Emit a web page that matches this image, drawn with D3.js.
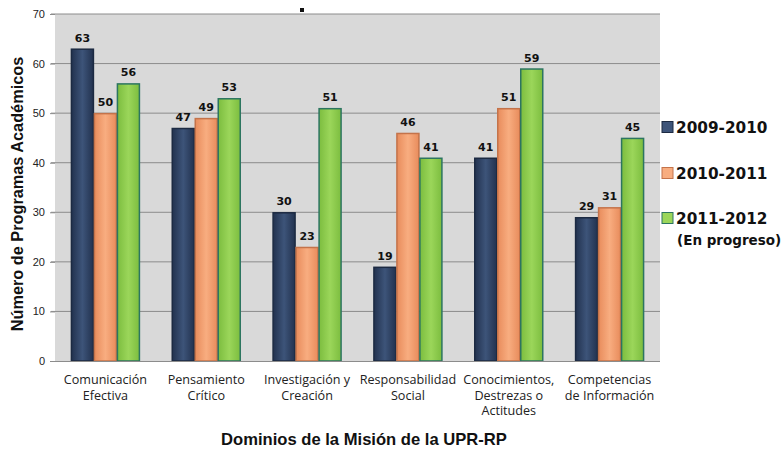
<!DOCTYPE html>
<html><head><meta charset="utf-8">
<script src="https://cdn.jsdelivr.net/npm/d3@7"></script>
<style>body{margin:0;background:#fff}svg{display:block}</style>
</head><body><svg id="c" width="782" height="454"></svg>
<script>
const categories = [["Comunicación","Efectiva"],["Pensamiento","Crítico"],["Investigación y","Creación"],["Responsabilidad","Social"],["Conocimientos,","Destrezas o","Actitudes"],["Competencias","de Información"]];
const seriesNames = ["2009-2010","2010-2011","2011-2012"];
const s2009 = [63,47,30,19,41,29];
const s2010 = [50,49,23,46,51,31];
const s2011 = [56,53,51,41,59,45];
const yTicks = [0,10,20,30,40,50,60,70];
const seriesVals = [s2009,s2010,s2011];
const styles = [
  {edge:"#22324f",mid:"#3d5479",stroke:"#1c2a42"},
  {edge:"#e88c5c",mid:"#f8ad80",stroke:"#c4734a"},
  {edge:"#7cbd3f",mid:"#9bd65a",stroke:"#2c7560"}
];
const svg = d3.select("#c");
const m = {l:55,r:660,t:14,b:361};
const x = d3.scaleBand().domain(d3.range(categories.length)).range([m.l,m.r]).paddingInner(0).paddingOuter(0);
const y = d3.scaleLinear().domain([0,70]).range([m.b,m.t]);
const bw = 23;
const defs = svg.append("defs");
styles.forEach((s,i)=>{
  const g = defs.append("linearGradient").attr("id","g"+i).attr("x1","0").attr("x2","1").attr("y1","0").attr("y2","0");
  g.append("stop").attr("offset","0").attr("stop-color",s.edge);
  g.append("stop").attr("offset","0.5").attr("stop-color",s.mid);
  g.append("stop").attr("offset","1").attr("stop-color",s.edge);
});
svg.append("rect").attr("x",m.l).attr("y",m.t).attr("width",m.r-m.l).attr("height",m.b-m.t).attr("fill","#d9d9d9");
svg.append("g").selectAll("line").data(yTicks.filter(d=>d>0)).join("line")
  .attr("x1",m.l-4).attr("x2",m.r).attr("y1",d=>y(d)).attr("y2",d=>y(d))
  .attr("stroke","#8c8c8c").attr("stroke-width",1);
// y axis
const ya = svg.append("g").attr("transform",`translate(${m.l},0)`).call(d3.axisLeft(y).tickValues(yTicks).tickSize(5).tickPadding(5));
ya.select(".domain").remove();
ya.selectAll("line").attr("stroke","#8c8c8c");
ya.selectAll("text").attr("font-family","Liberation Sans, Arial").attr("font-size","11px").attr("fill","#222");
// bars
seriesVals.forEach((vals,si)=>{
  const g = svg.append("g");
  g.selectAll("rect").data(vals).join("rect")
    .attr("x",(d,i)=>x(i)+x.bandwidth()/2-1.5*bw+si*bw+0.5)
    .attr("y",d=>y(d)+0.5).attr("width",bw-1).attr("height",d=>y(0)-y(d)-0.5)
    .attr("fill",`url(#g${si})`).attr("stroke",styles[si].stroke).attr("stroke-width",1.5);
  g.selectAll("text").data(vals).join("text")
    .attr("x",(d,i)=>x(i)+x.bandwidth()/2-1.5*bw+si*bw+bw/2)
    .attr("y",d=>y(d)-7).attr("text-anchor","middle")
    .attr("font-family","DejaVu Sans, Liberation Sans").attr("font-weight","bold").attr("font-size","11px").attr("fill","#111")
    .text(d=>d);
});
// x axis line
svg.append("line").attr("x1",m.l-4).attr("x2",m.r).attr("y1",m.b+0.5).attr("y2",m.b+0.5).attr("stroke","#8c8c8c");
// category labels
const cl = svg.append("g");
categories.forEach((c,i)=>{
  const t = cl.append("text").attr("x",x(i)+x.bandwidth()/2).attr("y",384).attr("text-anchor","middle")
    .attr("font-family","Open Sans, Liberation Sans").attr("font-size","12.6px").attr("fill","#222");
  c.forEach((line,j)=>t.append("tspan").attr("x",x(i)+x.bandwidth()/2).attr("dy",j?15.5:0).text(line));
});
// axis titles
svg.append("text").attr("x",364).attr("y",445).attr("text-anchor","middle")
  .attr("font-family","Liberation Sans Narrow, Liberation Sans").attr("font-weight","bold").attr("font-size","16.6px").attr("fill","#111")
  .text("Dominios de la Misión de la UPR-RP");
svg.append("text").attr("transform","translate(23,194) rotate(-90)").attr("text-anchor","middle")
  .attr("font-family","Liberation Sans Narrow, Liberation Sans").attr("font-weight","bold").attr("font-size","16.3px").attr("fill","#111")
  .text("Número de Programas Académicos");
// legend
const lg = svg.append("g");
const ly = [133,179,224];
seriesNames.forEach((n,i)=>{
  lg.append("rect").attr("x",662).attr("y",ly[i]-11.5).attr("width",11).attr("height",11)
    .attr("fill",styles[i].mid).attr("stroke",styles[i].stroke).attr("stroke-width",1);
  lg.append("text").attr("x",676).attr("y",ly[i]).attr("font-family","DejaVu Sans, Liberation Sans").attr("font-weight","bold")
    .attr("font-size","15.3px").attr("fill","#111").text(n);
});
lg.append("text").attr("x",677).attr("y",245).attr("font-family","DejaVu Sans, Liberation Sans").attr("font-weight","bold")
  .attr("font-size","13.5px").attr("fill","#111").text("(En progreso)");
svg.append("rect").attr("x",300).attr("y",8).attr("width",4).attr("height",4).attr("fill","#111");
</script></body></html>
